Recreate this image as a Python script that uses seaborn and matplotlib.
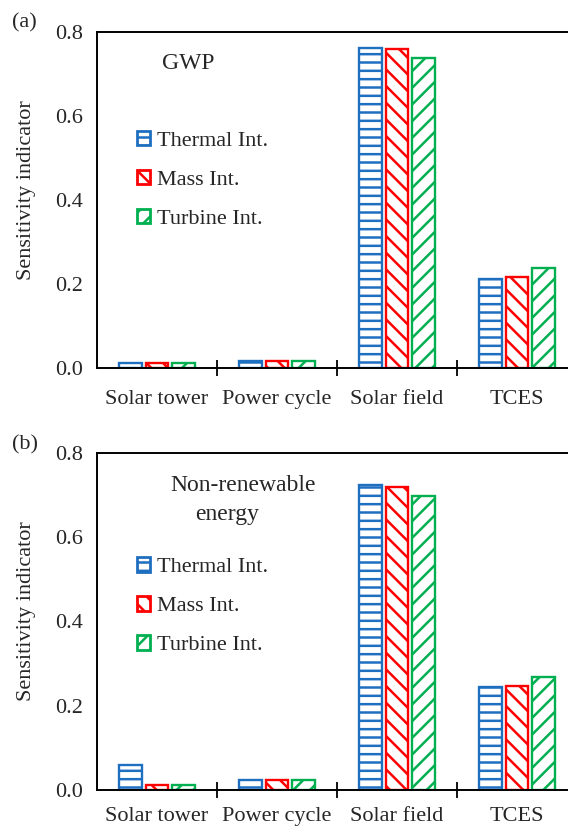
import numpy as np
import pandas as pd
import matplotlib
matplotlib.use("Agg")
import matplotlib.pyplot as plt
import seaborn as sns

# ── Data ─────────────────────────────────────────────────────────
categories = ["Solar tower", "Power cycle", "Solar field", "TCES"]
series = ["Thermal Int.", "Mass Int.", "Turbine Int."]

gwp_thermal = [0.012, 0.017, 0.761, 0.213]
gwp_mass = [0.011, 0.017, 0.760, 0.217]
gwp_turbine = [0.011, 0.016, 0.739, 0.237]

nre_thermal = [0.059, 0.024, 0.723, 0.245]
nre_mass = [0.012, 0.024, 0.720, 0.248]
nre_turbine = [0.012, 0.023, 0.698, 0.269]

panel_labels = ["(a)", "(b)"]
y_ticks = [0.0, 0.2, 0.4, 0.6, 0.8]

# ── Style ────────────────────────────────────────────────────────
sns.set_theme(style="white")
plt.rcParams["font.family"] = ["Liberation Serif", "DejaVu Serif"]
plt.rcParams["hatch.linewidth"] = 1.8

colors = ["#1f6fc0", "#ff0000", "#00b050"]
hatches = ["--", "\\\\", "//"]
FS = 16


def make_df(thermal, mass, turbine):
    rows = []
    for name, vals in zip(series, [thermal, mass, turbine]):
        for cat, v in zip(categories, vals):
            rows.append({"Component": cat, "Case": name, "Value": v})
    return pd.DataFrame(rows)


def draw_panel(ax, df, xpad):
    sns.barplot(data=df, x="Component", y="Value", hue="Case",
                order=categories, hue_order=series,
                width=0.667, gap=0.14, ax=ax, legend=False)
    # color + hatch each bar (patches come grouped by hue)
    n = len(categories)
    for i, p in enumerate(ax.patches[:n * len(series)]):
        k = i // n
        p.set_facecolor("white")
        p.set_edgecolor(colors[k])
        p.set_hatch(hatches[k])
        p.set_linewidth(1.7)

    ax.set_xlim(-0.5, 3.5)
    ax.set_ylim(0, 0.8)
    ax.set_yticks(y_ticks)
    ax.set_yticklabels([f"{t:.1f}" for t in y_ticks], fontsize=FS)
    ax.tick_params(axis="y", length=0, pad=10)

    ax.set_xticks([0.5, 1.5, 2.5], labels=[])
    ax.set_xticks(range(len(categories)), minor=True)
    ax.set_xticklabels(categories, minor=True, fontsize=FS)
    ax.tick_params(axis="x", which="major", direction="inout", length=11,
                   width=1.3, color="black", bottom=True)
    ax.tick_params(axis="x", which="minor", length=0, pad=xpad)
    ax.set_xlabel("")
    ax.set_ylabel("Sensitivity indicator", fontsize=16)
    ax.yaxis.set_label_coords(-0.127, 0.53)

    for s in ["top", "left", "bottom", "right"]:
        ax.spines[s].set_visible(True)
        ax.spines[s].set_color("black")
        ax.spines[s].set_linewidth(1.4)

    handles = [plt.Rectangle((0, 0), 1, 1, facecolor="white", edgecolor=c,
                             hatch=h, linewidth=2.0)
               for c, h in zip(colors, hatches)]
    return handles


fig = plt.figure(figsize=(5.68, 8.26), dpi=100)
ax_a = fig.add_axes([0.1708, 0.5545, 0.845, 0.4068])
ax_b = fig.add_axes([0.1708, 0.0436, 0.845, 0.408])

legend_kw = dict(loc="upper left", frameon=False, fontsize=FS,
                 handlelength=0.6, handleheight=0.6, handletextpad=0.3,
                 labelspacing=0.86, borderaxespad=0, borderpad=0)

h = draw_panel(ax_a, make_df(gwp_thermal, gwp_mass, gwp_turbine), 16)
ax_a.text(0.19, 0.905, "GWP", transform=ax_a.transAxes,
          ha="center", va="center", fontsize=17)
ax_a.legend(h, series, bbox_to_anchor=(0.083, 0.705), **legend_kw)

h = draw_panel(ax_b, make_df(nre_thermal, nre_mass, nre_turbine), 12)
ax_b.text(0.153, 0.903, "Non-renewable", transform=ax_b.transAxes,
          ha="left", va="center", fontsize=17)
ax_b.text(0.271, 0.817, "energy", transform=ax_b.transAxes,
          ha="center", va="center", fontsize=17)
ax_b.legend(h, series, bbox_to_anchor=(0.083, 0.69), **legend_kw)

fig.text(12 / 568, 1 - 23 / 826, panel_labels[0], fontsize=FS,
         ha="left", va="center")
fig.text(12 / 568, 1 - 445 / 826, panel_labels[1], fontsize=FS,
         ha="left", va="center")

fig.savefig("out.png", dpi=100)
plt.close()
